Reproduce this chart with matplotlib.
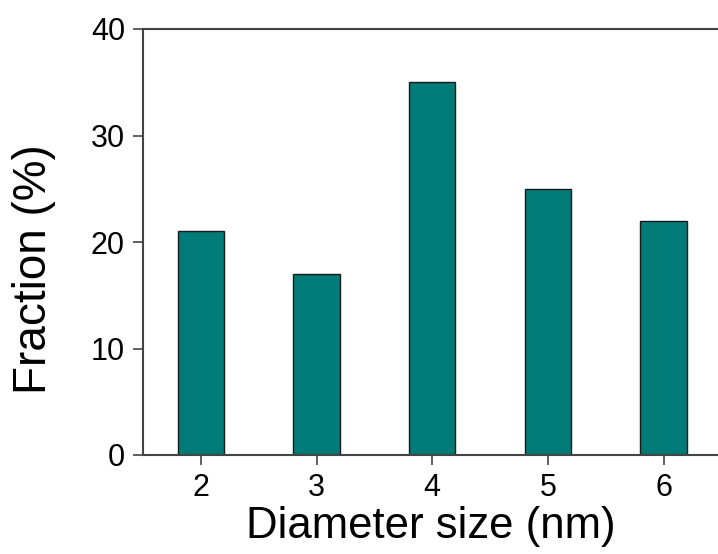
import numpy as np
from matplotlib import pyplot as plt

plt.rcParams['font.family'] = ['Liberation Sans', 'DejaVu Sans']

# data
diameters = [2, 3, 4, 5, 6]
fractions = [21, 17, 35, 25, 22]
y_ticks = [0, 10, 20, 30, 40]

fig = plt.figure(figsize=(7.18, 5.54), dpi=100)
ax = fig.add_axes([143 / 718, 99 / 554, 1 - 143 / 718, 426 / 554])

ax.bar(diameters, fractions, width=0.4, color='#007b77', edgecolor='#1a1a1a', linewidth=1.0)

ax.set_xlim(1.5, 6.47)
ax.set_ylim(0, 40)
ax.set_xticks(diameters)
ax.set_yticks(y_ticks)

for s in ['left', 'bottom', 'top']:
    ax.spines[s].set_color('#444444')
    ax.spines[s].set_linewidth(1.5)
ax.spines['right'].set_visible(False)

ax.tick_params(direction='out', length=7, width=1.2, color='#444444',
               labelsize=22, pad=6)

ax.set_xlabel('Diameter size (nm)', fontsize=31.5, labelpad=2)
ax.set_ylabel('Fraction (%)', fontsize=33)
# label sits a bit below the axis centre in the original
ax.yaxis.set_label_coords(-0.151, 0.437)

fig.savefig('out.png', dpi=100)
